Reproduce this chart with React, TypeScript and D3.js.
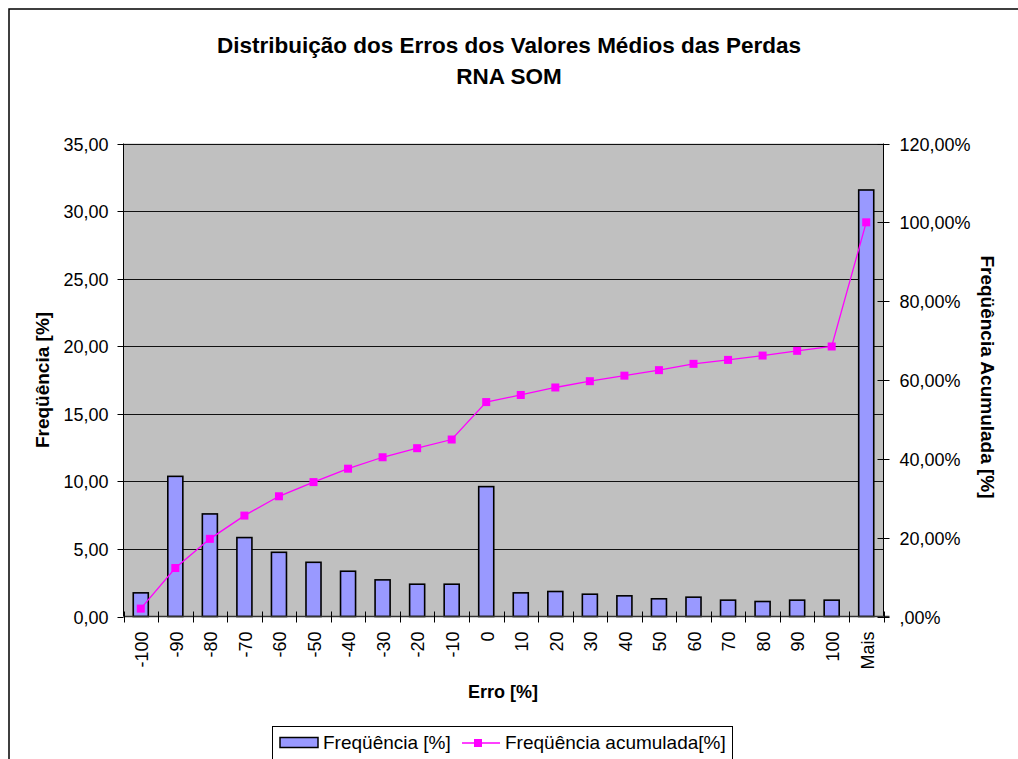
import React, { useRef, useEffect } from "react";
import * as d3 from "d3";

const categories = [
  "-100", "-90", "-80", "-70", "-60", "-50", "-40", "-30", "-20", "-10", "0",
  "10", "20", "30", "40", "50", "60", "70", "80", "90", "100", "Mais",
];

// Freqüência [%]
const frequencia = [
  1.75, 10.37, 7.59, 5.84, 4.75, 4.01, 3.35, 2.71, 2.39, 2.39, 9.61,
  1.75, 1.85, 1.65, 1.53, 1.31, 1.43, 1.21, 1.11, 1.21, 1.21, 31.56,
];

// Freqüência acumulada [%]
const acumulada = [
  2.0, 12.3, 19.7, 25.6, 30.5, 34.1, 37.5, 40.4, 42.7, 44.9, 54.4,
  56.2, 58.1, 59.7, 61.1, 62.5, 64.1, 65.1, 66.2, 67.4, 68.5, 100.0,
];

const leftTicks = [0, 5, 10, 15, 20, 25, 30, 35];
const rightTicks = [0, 20, 40, 60, 80, 100, 120];

const fmtLeft = (v: number) => d3.format(".2f")(v).replace(".", ",");
const fmtRight = (v: number) =>
  v === 0 ? ",00%" : d3.format(".2f")(v).replace(".", ",") + "%";

const App: React.FC = () => {
  const ref = useRef<SVGSVGElement | null>(null);
  const width = 1018;
  const height = 759;
  const plot = { left: 123.5, right: 883.5, top: 143.5, bottom: 616.5 };
  const font = "'Liberation Sans', Arial, sans-serif";
  const tickSize = 18;
  const titleSize = 19;

  useEffect(() => {
    const svg = d3.select(ref.current);
    svg.selectAll("*").remove();

    // moldura do gráfico
    svg
      .append("rect")
      .attr("x", 9)
      .attr("y", 9)
      .attr("width", width + 20)
      .attr("height", height + 20)
      .attr("fill", "white")
      .attr("stroke", "black")
      .attr("stroke-width", 1.5);

    const x = d3
      .scaleBand<string>()
      .domain(categories)
      .range([plot.left, plot.right])
      .paddingInner(0.565)
      .paddingOuter(0.2825);

    const step = x.step();
    const xc = (c: string) => x(c)! + x.bandwidth() / 2;

    const yL = d3.scaleLinear().domain([0, 35]).range([plot.bottom, plot.top]);
    const yR = d3.scaleLinear().domain([0, 120]).range([plot.bottom, plot.top]);

    svg
      .append("rect")
      .attr("x", plot.left)
      .attr("y", plot.top)
      .attr("width", plot.right - plot.left)
      .attr("height", plot.bottom - plot.top)
      .attr("fill", "#c0c0c0");

    // linhas de grade
    svg
      .append("g")
      .selectAll("line")
      .data(leftTicks.slice(1))
      .join("line")
      .attr("x1", plot.left)
      .attr("x2", plot.right)
      .attr("y1", (d) => Math.round(yL(d)) + 0.5)
      .attr("y2", (d) => Math.round(yL(d)) + 0.5)
      .attr("stroke", "#111")
      .attr("stroke-width", 1);

    // barras
    svg
      .append("g")
      .selectAll("rect")
      .data(frequencia)
      .join("rect")
      .attr("x", (_, i) => x(categories[i])!)
      .attr("y", (d) => yL(d))
      .attr("width", x.bandwidth())
      .attr("height", (d) => plot.bottom - yL(d))
      .attr("fill", "#9999ff")
      .attr("stroke", "#000")
      .attr("stroke-width", 1.6);

    // linha acumulada
    const line = d3
      .line<number>()
      .x((_, i) => xc(categories[i]))
      .y((d) => yR(d));

    svg
      .append("path")
      .datum(acumulada)
      .attr("fill", "none")
      .attr("stroke", "#ff00ff")
      .attr("stroke-width", 1.3)
      .attr("d", line);

    svg
      .append("g")
      .selectAll("rect")
      .data(acumulada)
      .join("rect")
      .attr("x", (_, i) => xc(categories[i]) - 4)
      .attr("y", (d) => yR(d) - 4)
      .attr("width", 8)
      .attr("height", 8)
      .attr("fill", "#ff00ff");

    // eixos
    const axisColor = "#000";
    svg
      .append("line")
      .attr("x1", plot.left)
      .attr("x2", plot.left)
      .attr("y1", plot.top)
      .attr("y2", plot.bottom)
      .attr("stroke", axisColor);
    svg
      .append("line")
      .attr("x1", plot.right)
      .attr("x2", plot.right)
      .attr("y1", plot.top)
      .attr("y2", plot.bottom)
      .attr("stroke", axisColor);
    svg
      .append("line")
      .attr("x1", plot.left)
      .attr("x2", plot.right + 6)
      .attr("y1", plot.bottom)
      .attr("y2", plot.bottom)
      .attr("stroke", "#333")
      .attr("stroke-width", 1.5);

    // ticks eixo x (entre categorias, cruzando)
    const xTicks = d3.range(categories.length + 1).map((i) => plot.left + i * step);
    svg
      .append("g")
      .selectAll("line")
      .data(xTicks)
      .join("line")
      .attr("x1", (d) => Math.round(d) + 0.5)
      .attr("x2", (d) => Math.round(d) + 0.5)
      .attr("y1", plot.bottom - 5)
      .attr("y2", plot.bottom + 6)
      .attr("stroke", axisColor);

    // eixo esquerdo
    const gl = svg.append("g").attr("font-family", font).attr("font-size", tickSize);
    leftTicks.forEach((t) => {
      const yy = Math.round(yL(t)) + 0.5;
      gl.append("line")
        .attr("x1", plot.left - 6)
        .attr("x2", plot.left)
        .attr("y1", yy)
        .attr("y2", yy)
        .attr("stroke", axisColor);
      gl.append("text")
        .attr("x", plot.left - 15)
        .attr("y", yy)
        .attr("dy", "0.35em")
        .attr("text-anchor", "end")
        .attr("fill", "#000")
        .text(fmtLeft(t));
    });

    // eixo direito
    const gr = svg.append("g").attr("font-family", font).attr("font-size", tickSize);
    rightTicks.forEach((t) => {
      const yy = Math.round(yR(t)) + 0.5;
      gr.append("line")
        .attr("x1", plot.right - 6)
        .attr("x2", plot.right + 6)
        .attr("y1", yy)
        .attr("y2", yy)
        .attr("stroke", axisColor);
      gr.append("text")
        .attr("x", plot.right + 16)
        .attr("y", yy)
        .attr("dy", "0.35em")
        .attr("text-anchor", "start")
        .attr("fill", "#000")
        .text(fmtRight(t));
    });

    // rótulos categoria
    svg
      .append("g")
      .attr("font-family", font)
      .attr("font-size", tickSize)
      .selectAll("text")
      .data(categories)
      .join("text")
      .attr(
        "transform",
        (d) => "translate(" + (xc(d) + 1) + "," + (plot.bottom + 15) + ") rotate(-90)"
      )
      .attr("dy", "0.35em")
      .attr("text-anchor", "end")
      .attr("fill", "#000")
      .text((d) => d);

    // títulos
    const title = svg
      .append("text")
      .attr("font-family", font)
      .attr("font-size", 22.5)
      .attr("font-weight", "bold")
      .attr("text-anchor", "middle")
      .attr("fill", "#000");
    title.append("tspan").attr("x", 509).attr("y", 53).text("Distribuição dos Erros dos Valores Médios das Perdas");
    title.append("tspan").attr("x", 509).attr("y", 84).text("RNA SOM");

    svg
      .append("text")
      .attr("font-family", font)
      .attr("font-size", titleSize)
      .attr("font-weight", "bold")
      .attr("text-anchor", "middle")
      .attr("transform", "translate(49,380) rotate(-90)")
      .attr("fill", "#000")
      .text("Freqüência [%]");

    svg
      .append("text")
      .attr("font-family", font)
      .attr("font-size", titleSize)
      .attr("font-weight", "bold")
      .attr("text-anchor", "middle")
      .attr("transform", "translate(981,377) rotate(90)")
      .attr("fill", "#000")
      .text("Freqüência Acumulada [%]");

    svg
      .append("text")
      .attr("font-family", font)
      .attr("font-size", 18)
      .attr("font-weight", "bold")
      .attr("text-anchor", "middle")
      .attr("x", 503)
      .attr("y", 698)
      .attr("fill", "#000")
      .text("Erro [%]");

    // legenda
    const lg = svg.append("g").attr("font-family", font).attr("font-size", 19);
    lg.append("rect")
      .attr("x", 272.5)
      .attr("y", 726.5)
      .attr("width", 460)
      .attr("height", 50)
      .attr("fill", "white")
      .attr("stroke", "#000");
    lg.append("rect")
      .attr("x", 280)
      .attr("y", 737.5)
      .attr("width", 38)
      .attr("height", 10)
      .attr("fill", "#9999ff")
      .attr("stroke", "#000")
      .attr("stroke-width", 1.5);
    lg.append("text").attr("x", 323).attr("y", 749).attr("fill", "#000").text("Freqüência [%]");
    lg.append("line")
      .attr("x1", 462)
      .attr("x2", 500)
      .attr("y1", 743)
      .attr("y2", 743)
      .attr("stroke", "#ff00ff")
      .attr("stroke-width", 1.3);
    lg.append("rect")
      .attr("x", 474)
      .attr("y", 739)
      .attr("width", 8)
      .attr("height", 8)
      .attr("fill", "#ff00ff");
    lg.append("text").attr("x", 505).attr("y", 749).attr("fill", "#000").text("Freqüência acumulada[%]");
  }, []);

  return (
    <svg
      ref={ref}
      width={width}
      height={height}
      style={{ position: "absolute", left: 0, top: 0, background: "white" }}
    ></svg>
  );
};

export default App;
